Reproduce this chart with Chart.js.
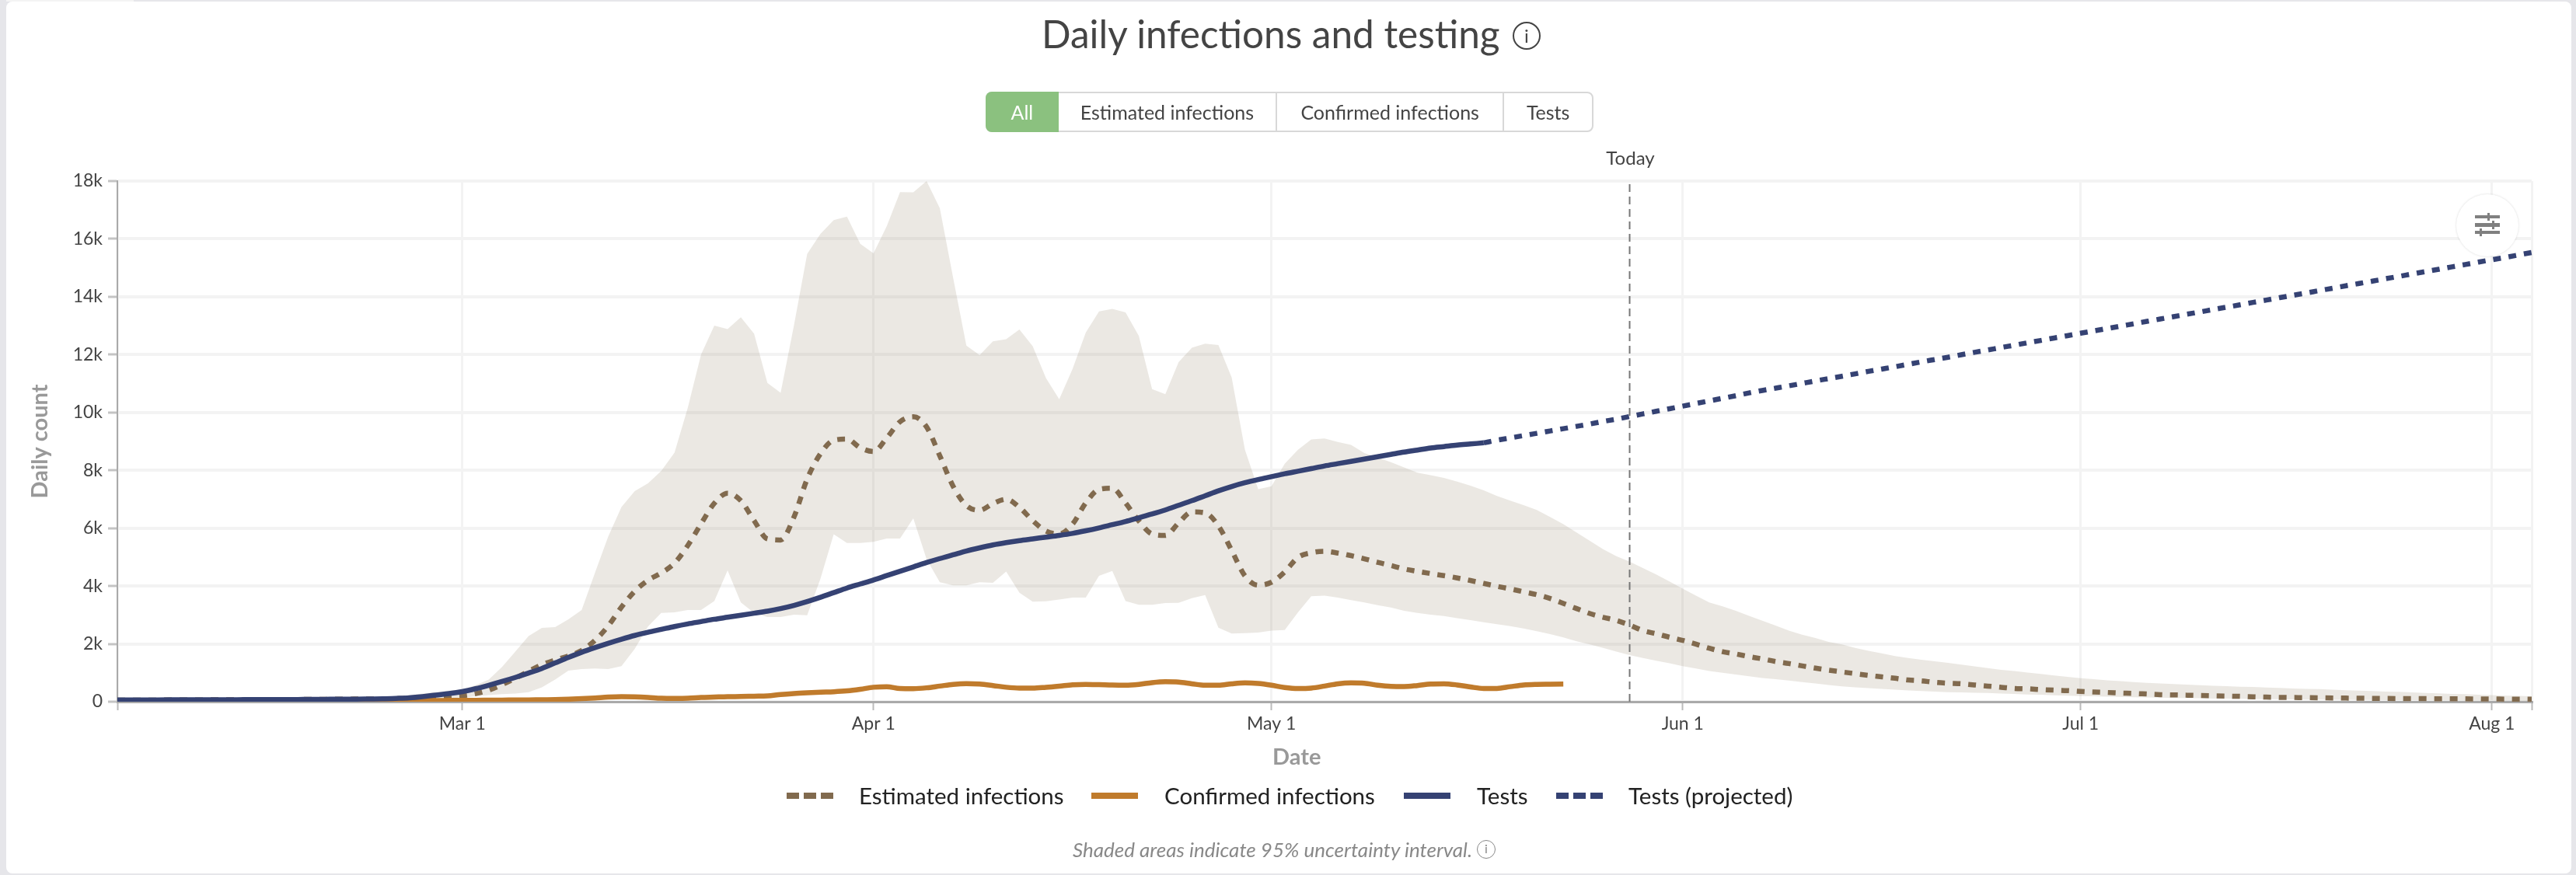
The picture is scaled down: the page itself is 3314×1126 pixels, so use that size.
<!DOCTYPE html>
<html>
<head>
<meta charset="utf-8">
<title>Daily infections and testing</title>
<script src="https://cdn.jsdelivr.net/npm/chart.js@4"></script>
<style>
    html, body { margin: 0; padding: 0; width: 3314px; height: 1126px; overflow: hidden; background: #e6e6ea; font-family: Lato, sans-serif; }
    #card { position: absolute; left: 8px; top: 2px; width: 3300px; height: 1122px; background: #fff; border-radius: 8px; }
    #topPatch { position: absolute; left: 8px; top: 0; width: 164px; height: 2px; background: #f4f4f4; }
    #wrap { position: absolute; left: 0; top: 0; width: 3314px; height: 1126px; }
    .abs { position: absolute; white-space: nowrap; }
    #title { left: 1340px; top: 13px; font-size: 49.5px; line-height: 60px; color: #444; }
    .info { position: absolute; border: 2px solid #444; border-radius: 50%; box-sizing: border-box; text-align: center; color: #444; font-family: Lato, sans-serif; }
    #tabs { left: 1268px; top: 118px; width: 782px; height: 52px; display: flex; box-sizing: border-box; border: 2px solid #d8d8d8; border-radius: 8px; font-size: 25px; color: #444; }
    #tabs div { display: flex; align-items: center; justify-content: center; border-left: 2px solid #d8d8d8; box-sizing: border-box; }
    #tabs .on { background: #8bc17f; color: #fff; border: 0; margin: -2px 0 -2px -2px; border-radius: 8px 0 0 8px; }
    .legend-text { top: 1007px; font-size: 29.5px; line-height: 34px; color: #222; }
    .swatch { position: absolute; top: 1020px; height: 8px; width: 60px; }
    #note { left: 1380px; top: 1078px; font-size: 26px; line-height: 30px; font-style: italic; color: #888; }
    #xTitle { left: 1637px; top: 955px; font-size: 29px; line-height: 36px; font-weight: bold; color: #999; }
    #settings { left: 3160px; top: 250px; width: 80px; height: 80px; border-radius: 50%; background: #fff; box-shadow: 0 0 3px rgba(0,0,0,0.15); }
</style>
</head>
<body>
<div id="card"></div>
<div id="topPatch"></div>
<div id="wrap"><canvas id="myChart" width="3314" height="1126"></canvas></div>

<div class="abs" id="title">Daily infections and testing</div>
<div class="info" style="left:1946px;top:28px;width:36px;height:36px;font-size:24px;line-height:32px;">i</div>

<div class="abs" id="tabs">
    <div class="on" style="width:94px;">All</div>
    <div style="width:280px;border-left:0;">Estimated infections</div>
    <div style="width:293px;">Confirmed infections</div>
    <div style="width:115px;">Tests</div>
</div>

<div class="abs" id="settings">
    <svg width="80" height="80" viewBox="0 0 80 80">
        <g fill="#808080">
            <rect x="24" y="27" width="32" height="4"/><rect x="40" y="24" width="3" height="10"/>
            <rect x="24" y="37" width="32" height="5"/><rect x="46" y="34" width="3" height="11"/>
            <rect x="24" y="47" width="32" height="4"/><rect x="30" y="44" width="3" height="10"/>
        </g>
    </svg>
</div>

<div class="abs" id="xTitle">Date</div>

<div class="swatch" style="left:1012px;background:repeating-linear-gradient(90deg,#816a4e 0 16px,transparent 16px 22px);"></div>
<div class="abs legend-text" style="left:1105px;">Estimated infections</div>
<div class="swatch" style="left:1404px;background:#c07b2c;"></div>
<div class="abs legend-text" style="left:1498px;">Confirmed infections</div>
<div class="swatch" style="left:1806px;background:#354273;"></div>
<div class="abs legend-text" style="left:1900px;">Tests</div>
<div class="swatch" style="left:2002px;background:repeating-linear-gradient(90deg,#354273 0 16px,transparent 16px 22px);"></div>
<div class="abs legend-text" style="left:2095px;">Tests (projected)</div>

<div class="abs" id="note">Shaded areas indicate 95% uncertainty interval.</div>
<div class="info" style="left:1900px;top:1081px;width:24px;height:24px;font-size:16px;line-height:20px;border-color:#888;color:#888;border-width:1.5px;">i</div>

<script>
// Dates on the x axis, one per day from Feb 4 to Aug 4
const months = ['Feb', 'Mar', 'Apr', 'May', 'Jun', 'Jul', 'Aug'];
const monthDays = [29, 31, 30, 31, 30, 31, 4];
const dates = [];
months.forEach((m, i) => {
    for (let d = (i === 0 ? 4 : 1); d <= monthDays[i]; d++) dates.push(m + ' ' + d);
});
const tickDates = ['Mar 1', 'Apr 1', 'May 1', 'Jun 1', 'Jul 1', 'Aug 1'];
const todayDate = 'May 28';

const estimatedInfections = [
    55, 55, 56, 57, 58, 60, 62, 64, 66, 68,
    70, 72, 74, 76, 78, 80, 84, 88, 92, 96,
    100, 105, 115, 125, 140, 170, 210, 280, 400, 590,
    810, 1050, 1280, 1440, 1580, 1770, 2120, 2620, 3270, 3820,
    4200, 4450, 4790, 5400, 6150, 6860, 7210, 6950, 6260, 5630,
    5590, 6380, 7700, 8570, 9040, 9080, 8780, 8650, 9120, 9680,
    9850, 9500, 8500, 7450, 6780, 6620, 6850, 7000, 6720, 6260,
    5900, 5800, 6140, 6870, 7340, 7380, 6870, 6250, 5800, 5750,
    6180, 6560, 6530, 6080, 5230, 4350, 4030, 4130, 4490, 4990,
    5150, 5200, 5140, 5050, 4940, 4820, 4710, 4590, 4510, 4430,
    4360, 4280, 4190, 4090, 3990, 3900, 3800, 3700, 3570, 3400,
    3220, 3050, 2920, 2810, 2650, 2460, 2350, 2230, 2120, 1990,
    1850, 1730, 1650, 1560, 1480, 1390, 1320, 1240, 1160, 1090,
    1030, 970, 910, 860, 810, 750, 720, 670, 640, 620,
    580, 540, 500, 460, 445, 420, 400, 385, 355, 335,
    320, 300, 285, 265, 245, 235, 225, 215, 205, 195,
    185, 170, 160, 150, 145, 140, 135, 130, 125, 120,
    115, 112, 110, 107, 105, 102, 100, 98, 95, 92,
    90, 87, 85
];

// Uncertainty band starts at day 20 (Feb 24)
const bandStart = 20;
const estimatedUpper = [
    100, 135, 230, 280, 330, 380, 430, 570, 765, 1200,
    1730, 2270, 2550, 2580, 2850, 3170, 4450, 5710, 6730, 7280,
    7550, 7980, 8610, 10160, 12000, 13000, 12880, 13290, 12720, 11020,
    10680, 13000, 15480, 16170, 16650, 16770, 15830, 15500, 16440, 17620,
    17610, 18000, 17060, 14660, 12310, 11980, 12460, 12530, 12870, 12290,
    11190, 10460, 11500, 12760, 13490, 13580, 13460, 12650, 10810, 10630,
    11740, 12240, 12380, 12330, 11210, 8710, 7350, 7450, 8230, 8710,
    9070, 9100, 8980, 8880, 8600, 8440, 8280, 8100, 7920, 7830,
    7740, 7610, 7470, 7310, 7110, 6950, 6800, 6630, 6390, 6140,
    5850, 5560, 5270, 5030, 4840, 4620, 4400, 4160, 3910, 3670,
    3430, 3300, 3140, 2970, 2800, 2630, 2460, 2320, 2200, 2070,
    1980, 1860, 1760, 1670, 1580, 1510, 1450, 1400, 1340, 1280,
    1220, 1160, 1100, 1060, 1010, 960, 910, 860, 810, 780,
    740, 710, 680, 650, 630, 610, 590, 570, 550, 540,
    520, 510, 490, 480, 460, 445, 435, 415, 395, 385,
    370, 350, 340, 320, 300, 290, 270, 260, 240, 230,
    210, 200, 190
];
const estimatedLower = [
    70, 70, 75, 80, 90, 110, 135, 185, 230, 260,
    280, 330, 495, 765, 1075, 1130, 1150, 1130, 1230, 1830,
    2600, 3070, 3090, 3170, 3170, 3480, 4540, 3430, 3070, 2930,
    2930, 3010, 2990, 4250, 5790, 5490, 5490, 5530, 5640, 5640,
    6340, 4930, 4130, 4020, 4020, 4130, 4110, 4500, 3770, 3460,
    3470, 3530, 3600, 3600, 4350, 4520, 3480, 3350, 3350, 3410,
    3420, 3580, 3690, 2560, 2360, 2370, 2390, 2460, 2480, 3090,
    3650, 3670, 3600, 3510, 3430, 3340, 3260, 3140, 3070, 3010,
    2960, 2890, 2820, 2750, 2680, 2610, 2530, 2440, 2340, 2220,
    2090, 1980, 1860, 1730, 1610, 1510, 1420, 1330, 1230, 1150,
    1060, 1000, 940, 880, 820, 780, 730, 680, 630, 580,
    530, 500, 470, 445, 415, 390, 370, 350, 330, 320,
    310, 300, 280, 270, 250, 240, 225, 210, 195, 185,
    175, 165, 155, 148, 140, 130, 125, 118, 110, 105,
    98, 92, 88, 84, 80, 76, 73, 70, 66, 63,
    60, 57, 54, 52, 50, 47, 45, 43, 40, 38,
    36, 33, 30
];

const confirmedInfections = [
    15, 15, 15, 16, 16, 16, 17, 17, 18, 18,
    18, 20, 20, 20, 22, 22, 24, 25, 26, 28,
    30, 32, 34, 36, 40, 45, 50, 50, 52, 55,
    60, 62, 68, 72, 85, 105, 130, 160, 175, 170,
    150, 120, 115, 120, 145, 160, 175, 180, 190, 200,
    250, 285, 310, 330, 345, 375, 430, 500, 520, 455,
    450, 480, 540, 600, 625, 610, 560, 500, 470, 470,
    500, 540, 585, 600, 590, 575, 570, 600, 660, 690,
    680, 620, 570, 570, 620, 650, 630, 570, 490, 455,
    470, 540, 620, 650, 640, 570, 530, 525, 560, 610,
    620, 580, 510, 460, 460, 520, 580, 600, 605, 610
];

const tests = [
    60, 60, 62, 63, 64, 65, 66, 68, 70, 70,
    72, 74, 75, 76, 78, 80, 84, 88, 90, 95,
    100, 115, 135, 175, 230, 280, 350, 450, 570, 700,
    840, 990, 1150, 1340, 1530, 1710, 1870, 2020, 2160, 2290,
    2400, 2500, 2600, 2690, 2770, 2850, 2920, 2990, 3060, 3130,
    3220, 3330, 3460, 3610, 3770, 3930, 4070, 4210, 4360, 4510,
    4660, 4810, 4950, 5080, 5210, 5320, 5420, 5500, 5570, 5630,
    5690, 5750, 5820, 5910, 6010, 6120, 6230, 6360, 6490, 6630,
    6790, 6950, 7120, 7290, 7440, 7570, 7680, 7780, 7880, 7970,
    8060, 8150, 8230, 8310, 8390, 8470, 8550, 8630, 8700, 8770,
    8820, 8870, 8910, 8950
];

// Projection picks up where the measured tests stop (May 17)
const projectionStart = 103;
const testsProjected = [
    8950, 9040, 9120, 9200, 9280, 9360, 9440, 9520, 9600, 9690,
    9770, 9860, 9950, 10040, 10130, 10220, 10310, 10400, 10490, 10580,
    10675, 10760, 10840, 10920, 11005, 11090, 11170, 11250, 11335, 11420,
    11500, 11580, 11665, 11750, 11830, 11910, 11995, 12080, 12160, 12245,
    12325, 12410, 12490, 12575, 12655, 12740, 12820, 12900, 12985, 13065,
    13150, 13230, 13310, 13395, 13475, 13560, 13640, 13720, 13805, 13885,
    13970, 14050, 14130, 14215, 14295, 14380, 14460, 14540, 14625, 14705,
    14790, 14870, 14950, 15035, 15115, 15200, 15280, 15360, 15445, 15530
];

const padStart = (values, start) => new Array(start).fill(null).concat(values);

const brown = '#816a4e';
const orange = '#c07b2c';
const navy = '#354273';

// Today marker, dashed line plus label
const todayLine = {
    id: 'todayLine',
    afterDatasetsDraw(chart) {
        const { ctx, chartArea, scales } = chart;
        const x = scales.x.getPixelForValue(dates.indexOf(todayDate));
        ctx.save();
        ctx.strokeStyle = '#777';
        ctx.lineWidth = 2;
        ctx.setLineDash([10, 6]);
        ctx.beginPath();
        ctx.moveTo(x, chartArea.top + 4);
        ctx.lineTo(x, chartArea.bottom);
        ctx.stroke();
        ctx.setLineDash([]);
        ctx.fillStyle = '#444';
        ctx.font = '24px Lato';
        ctx.textAlign = 'center';
        ctx.textBaseline = 'middle';
        ctx.fillText('Today', x + 1, 204);
        ctx.restore();
    }
};

const lineStyle = (color) => ({
    borderColor: color,
    borderWidth: 6.5,
    pointRadius: 0,
    fill: false,
    cubicInterpolationMode: 'monotone',
    borderCapStyle: 'butt'
});

new Chart(document.getElementById('myChart'), {
    type: 'line',
    data: {
        labels: dates,
        datasets: [
            { label: 'Upper', data: padStart(estimatedUpper, bandStart), borderWidth: 0, pointRadius: 0, tension: 0, fill: '+1', backgroundColor: 'rgba(155,140,115,0.2)', order: 6 },
            { label: 'Lower', data: padStart(estimatedLower, bandStart), borderWidth: 0, pointRadius: 0, tension: 0, fill: false, order: 7 },
            { label: 'Estimated infections', data: estimatedInfections, ...lineStyle(brown), borderDash: [10, 10], order: 4 },
            { label: 'Confirmed infections', data: confirmedInfections, ...lineStyle(orange), order: 3 },
            { label: 'Tests (projected)', data: padStart(testsProjected, projectionStart), ...lineStyle(navy), borderDash: [10, 10], order: 2 },
            { label: 'Tests', data: tests, ...lineStyle(navy), order: 1 }
        ]
    },
    options: {
        responsive: false,
        animation: false,
        devicePixelRatio: 1,
        layout: { padding: { left: 34, right: 57, top: 233, bottom: 136 } },
        plugins: { legend: { display: false }, tooltip: { enabled: false } },
        scales: {
            x: {
                type: 'category',
                afterBuildTicks(scale) {
                    const picks = [0, ...tickDates.map(d => dates.indexOf(d)), dates.length - 1];
                    scale.ticks = picks.map(v => ({ value: v }));
                },
                afterFit(scale) { scale.height = 87; },
                ticks: {
                    autoSkip: false,
                    maxRotation: 0,
                    padding: 4,
                    font: { family: 'Lato', size: 23 },
                    color: '#444',
                    callback(value) {
                        const label = dates[value];
                        return tickDates.includes(label) ? label : '';
                    }
                },
                grid: { color: '#f3f3f3', lineWidth: 3, tickColor: '#bbb', tickWidth: 2, tickLength: 11 },
                border: { color: '#aaa', width: 3 }
            },
            y: {
                min: 0,
                max: 18000,
                afterFit(scale) { scale.width = 117; },
                ticks: {
                    stepSize: 2000,
                    padding: 7,
                    font: { family: 'Lato', size: 23 },
                    color: '#444',
                    callback(value) { return value === 0 ? '0' : (value / 1000) + 'k'; }
                },
                grid: { color: '#f3f3f3', lineWidth: 4, tickColor: '#c4c4c4', tickWidth: 3, tickLength: 12 },
                border: { color: '#aaa', width: 2 },
                title: { display: true, text: 'Daily count', color: '#999', padding: { top: 0, bottom: 0 }, font: { family: 'Lato', size: 29, weight: 'bold' } }
            }
        }
    },
    plugins: [todayLine]
});
</script>
</body>
</html>
